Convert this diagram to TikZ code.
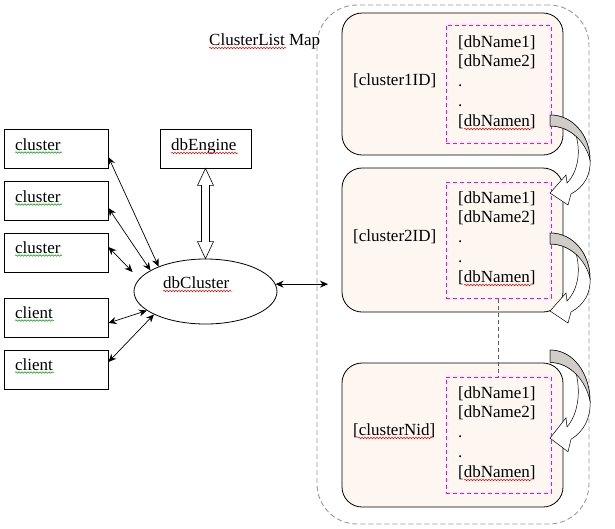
\documentclass[tikz,border=0pt]{standalone}
\usepackage{fontspec}
\setmainfont{Liberation Serif}
\usetikzlibrary{shapes.geometric,arrows.meta,calc,decorations.pathmorphing}
\definecolor{boxfill}{HTML}{FDF6F1}
\definecolor{arrgray}{HTML}{D0CCC8}
\definecolor{wavered}{HTML}{FF0000}
\definecolor{wavegreen}{HTML}{00A000}
\definecolor{mapgray}{HTML}{9A9A9A}
\definecolor{linkgray}{HTML}{606060}
\definecolor{pinkline}{HTML}{FF00FF}
\newcommand\curvearr[2]{%
  \begin{scope}[shift={(0,#1)}, yscale=#2]
    \draw[line width=0.5pt, fill=white] (550,0) .. controls (574,0) and (590,22) .. (590,45) .. controls (591,60) and (584,72) .. (571,79) -- (568,90) -- (550,78) -- (566,60) -- (567,68) .. controls (577,58) and (581,40) .. (576.4,21.6) .. controls (569.5,15.25) and (560.5,11) .. (550,11) -- cycle;
    \draw[line width=0.5pt, fill=arrgray] (550,0) .. controls (574,0) and (590,22) .. (590,45) .. controls (586,28) and (571,11) .. (550,11) -- cycle;
  \end{scope}}
\tikzset{
  sqbox/.style={draw, line width=0.8pt, minimum width=104pt, minimum height=39pt, inner sep=0pt},
  lbl/.style={anchor=base west, inner sep=0pt, font=\fontsize{17}{20}\selectfont},
  biarrow/.style={{Stealth[length=8pt,width=7pt]}-{Stealth[length=8pt,width=7pt]}, line width=0.7pt},
  cbox/.style={draw, rounded corners=20pt, fill=boxfill, line width=0.8pt, minimum width=221pt, inner sep=0pt},
  mbox/.style={draw=pinkline, dash pattern=on 4pt off 3pt, line width=1pt, minimum width=105pt, inner sep=0pt},
  mapbox/.style={draw=mapgray, dash pattern=on 5pt off 3pt, line width=0.9pt, rounded corners=40pt, minimum width=272pt, minimum height=519pt, inner sep=0pt},
  redsq/.style={wavered, line width=0.5pt, decorate, decoration={snake, amplitude=0.8pt, segment length=3pt}},
  greensq/.style={wavegreen, line width=0.5pt, decorate, decoration={snake, amplitude=0.8pt, segment length=3pt}}
}
\begin{document}
\begin{tikzpicture}[x=1pt, y=-1pt]
\useasboundingbox (0,0) rectangle (615,528);

% map container
\node[mapbox] (map) at (453,264.5) {};
\node[lbl] (maplbl) at (209,45) {ClusterList Map};
\draw[redsq] (209,48) -- (286,48);

% left boxes
\node[sqbox] (c1) at (56,148.5) {};
\node[sqbox] (c2) at (56,200.5) {};
\node[sqbox] (c3) at (56,252.5) {};
\node[sqbox] (cl1) at (56,317.5) {};
\node[sqbox] (cl2) at (56,369.5) {};
\node[lbl] (tc1) at (15,150) {cluster};
\node[lbl] (tc2) at (15,202) {cluster};
\node[lbl] (tc3) at (15,253) {cluster};
\node[lbl] (tcl1) at (15,318) {client};
\node[lbl] (tcl2) at (15,370) {client};
\foreach \yy in {152.5,204.5,255.5} \draw[greensq] (15,\yy) -- (62,\yy);
\foreach \yy in {320.5,372.5} \draw[greensq] (15,\yy) -- (54,\yy);

% dbEngine
\node[sqbox, minimum width=91pt] (dbe) at (205.5,148.5) {};
\node[lbl] (tdbe) at (171,150) {dbEngine};
\draw[redsq] (171,153) -- (238,153);

% dbCluster
\node[ellipse, draw, line width=0.8pt, minimum width=143pt, minimum height=65pt, inner sep=0pt] (dbc) at (205.5,291.5) {};
\node[lbl] (tdbc) at (163,288) {dbCluster};
\draw[redsq] (163,291) -- (232,291);

% hollow double arrow
\draw[line width=0.6pt, fill=white] (dbe.south) -- ++(8,17) -- ++(-4,0) -- ($(dbc.north)+(4,-17)$) -- ++(4,0) -- (dbc.north) -- ++(-8,-17) -- ++(4,0) -- ($(dbe.south)+(-4,17)$) -- ++(-4,0) -- cycle;

% connectors
\draw[biarrow] ([yshift=-8.5pt]c1.east) -- (dbc.152.7);
\draw[biarrow] ([yshift=-7.5pt]c2.east) -- (dbc.159.8);
\draw[biarrow] ([yshift=5.5pt]c3.east) -- ([xshift=-1pt,yshift=19.5pt]dbc.west);
\draw[biarrow] ([yshift=-5.5pt]cl1.east) -- (dbc.198.4);
\draw[biarrow] ([yshift=7.5pt]cl2.east) -- (dbc.204.8);
\coordinate (mapin) at (328,285);
\draw[biarrow] (dbc.6) -- (dbc.6 -| mapin);

% cluster boxes
\node[cbox, minimum height=142pt] (k1) at (452.5,84) {};
\node[cbox, minimum height=144pt] (k2) at (452.5,240) {};
\node[cbox, minimum height=144pt] (k3) at (452.5,435) {};
\node[mbox, minimum height=118pt] (m1) at (498.5,84) {};
\node[mbox, minimum height=116pt] (m2) at (498.5,240) {};
\node[mbox, minimum height=116pt] (m3) at (498.5,435) {};
\draw[linkgray, dash pattern=on 4pt off 3pt, line width=0.8pt] (m2.south) -- (m3.north);

\node[lbl] (id1) at (353,85) {[cluster1ID]};
\node[lbl] (id2) at (353,241) {[cluster2ID]};
\node[lbl] (id3) at (353,435) {[clusterNid]};
\draw[redsq] (358,438) -- (432,438);

\node[lbl] (a1) at (458,47) {[dbName1]};
\node[lbl] (a2) at (458,66.5) {[dbName2]};
\node[lbl] (a3) at (458,86.5) {.};
\node[lbl] (a4) at (458,106.5) {.};
\node[lbl] (a5) at (458,126) {[dbNamen]};
\draw[redsq] (464,129) -- (531,129);

\node[lbl] (b1) at (458,203) {[dbName1]};
\node[lbl] (b2) at (458,222.5) {[dbName2]};
\node[lbl] (b3) at (458,242) {.};
\node[lbl] (b4) at (458,262) {.};
\node[lbl] (b5) at (458,282) {[dbNamen]};
\draw[redsq] (464,285) -- (531,285);

\node[lbl] (n1) at (458,398) {[dbName1]};
\node[lbl] (n2) at (458,417) {[dbName2]};
\node[lbl] (n3) at (458,437) {.};
\node[lbl] (n4) at (458,457) {.};
\node[lbl] (n5) at (458,477) {[dbNamen]};
\draw[redsq] (464,480) -- (531,480);

% curved block arrows
\curvearr{115}{1}
\curvearr{233}{1}
\curvearr{350}{1.13}
\end{tikzpicture}
\end{document}
